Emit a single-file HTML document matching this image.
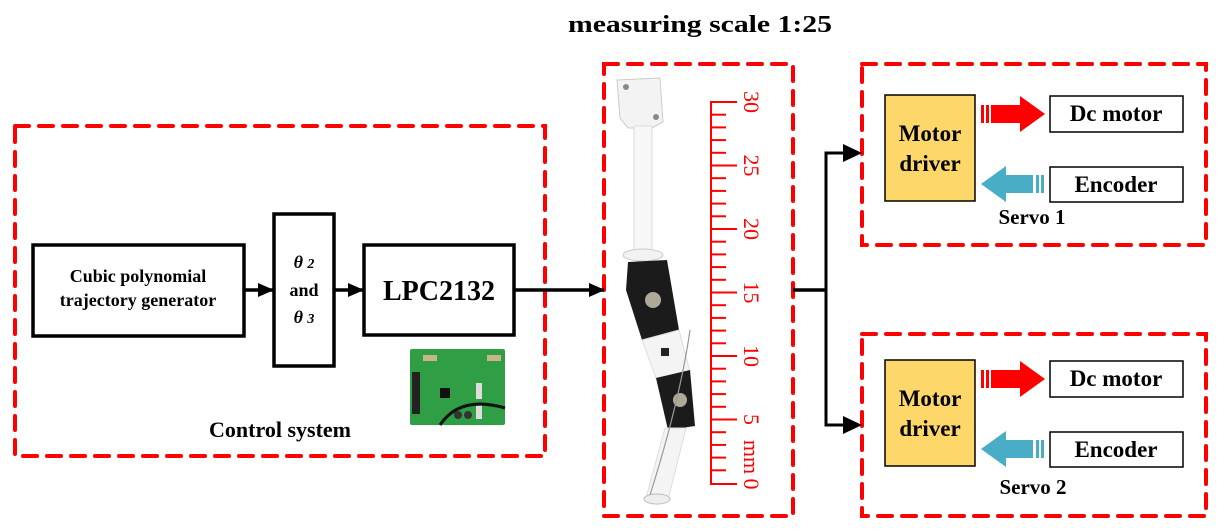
<!DOCTYPE html>
<html><head><meta charset="utf-8"><style>
html,body{margin:0;padding:0;background:#fff;}
svg{display:block;}
svg text{font-family:"Liberation Serif","Times New Roman",serif;font-weight:bold;}
svg text.n{font-weight:normal;}
</style></head><body>
<svg width="1221" height="532" viewBox="0 0 1221 532" xmlns="http://www.w3.org/2000/svg" font-family="Liberation Serif, serif">
<defs>
<marker id="ah" markerWidth="16" markerHeight="16" refX="15" refY="8" orient="auto" markerUnits="userSpaceOnUse">
<path d="M0,1 L16,8 L0,15 Z" fill="#000"/></marker>
</defs>
<text x="700" y="32" font-size="24" text-anchor="middle" textLength="264" lengthAdjust="spacingAndGlyphs">measuring scale 1:25</text>

<g fill="none" stroke="#ff0000" stroke-width="4" stroke-dasharray="14 10" stroke-linecap="round">
<rect x="15" y="126" width="530" height="330"/>
<rect x="604" y="64" width="189" height="452"/>
<rect x="862" y="64" width="344" height="181"/>
<rect x="862" y="334" width="344" height="182"/>
</g>

<g fill="#fff" stroke="#000" stroke-width="3.5">
<rect x="33" y="245" width="211" height="91"/>
<rect x="274" y="214" width="60" height="152"/>
<rect x="364" y="245" width="150" height="90"/>
</g>
<text x="138" y="282" font-size="18" text-anchor="middle">Cubic polynomial</text>
<text x="138" y="306" font-size="18" text-anchor="middle">trajectory generator</text>
<text x="304" y="268" font-size="18" text-anchor="middle" font-style="italic">θ <tspan font-size="14">2</tspan></text>
<text x="304" y="296" font-size="18" text-anchor="middle">and</text>
<text x="304" y="323" font-size="18" text-anchor="middle" font-style="italic">θ <tspan font-size="14">3</tspan></text>
<text x="439" y="300" font-size="28" text-anchor="middle">LPC2132</text>
<text x="280" y="437" font-size="22" text-anchor="middle">Control system</text>

<g stroke="#000" stroke-width="3.5" fill="none">
<line x1="244" y1="290" x2="273" y2="290" marker-end="url(#ah)"/>
<line x1="334" y1="290" x2="363" y2="290" marker-end="url(#ah)"/>
<line x1="514" y1="290" x2="604" y2="290" marker-end="url(#ah)"/>
<polyline points="793,290 826,290"/>
<polyline points="846,153 826,153 826,425 846,425" stroke-width="3"/>
</g>
<path d="M843,144 L862,153 L843,162Z M843,416 L862,425 L843,434Z"/>

<!-- PCB -->
<rect x="410" y="349" width="95" height="76" fill="#2f9e45" rx="2"/>
<rect x="412" y="372" width="8" height="42" fill="#222"/>
<rect x="440" y="388" width="10" height="10" fill="#111"/>
<rect x="423" y="355" width="14" height="6" fill="#c8b58a"/>
<rect x="487" y="355" width="14" height="6" fill="#c8b58a"/>
<rect x="476" y="383" width="6" height="16" fill="#ddd"/>
<rect x="476" y="403" width="6" height="16" fill="#ddd"/>
<path d="M440,425 Q460,395 505,408" stroke="#111" stroke-width="3" fill="none"/>
<circle cx="458" cy="415" r="4" fill="#333"/><circle cx="468" cy="415" r="4" fill="#333"/>

<!-- Arm -->
<path d="M617,80 L660,78 L663,122 L652,128 L628,128 L620,118 Z" fill="#f3f3f3" stroke="#ccc"/>
<circle cx="626" cy="87" r="3" fill="#888"/><circle cx="656" cy="117" r="3" fill="#888"/>
<rect x="634" y="126" width="18" height="126" fill="#f7f7f7" stroke="#ddd"/>
<ellipse cx="643" cy="255" rx="20" ry="6" fill="#f2f2f2" stroke="#ccc"/>
<path d="M628,262 L667,260 L679,330 L642,340 L626,290 Z" fill="#1b1b1b"/>
<circle cx="653" cy="300" r="8" fill="#b0a898"/>
<path d="M642,340 L679,330 L690,372 L656,378 Z" fill="#f4f4f4" stroke="#ddd"/>
<rect x="661" y="348" width="8" height="8" fill="#222"/>
<path d="M656,378 L690,370 L695,426 L668,430 Z" fill="#1b1b1b"/>
<circle cx="680" cy="400" r="7" fill="#b0a898"/>
<path d="M665,428 L686,428 L668,500 L646,498 Z" fill="#f4f4f4" stroke="#ddd"/>
<ellipse cx="657" cy="499" rx="13" ry="5" fill="#eee" stroke="#bbb"/>
<path d="M690,330 Q680,400 650,495" stroke="#999" stroke-width="1.2" fill="none"/>

<!-- Ruler -->
<g stroke="#ff0000" stroke-width="2">
<line x1="711" y1="101" x2="711" y2="485"/>
<line x1="711" y1="102" x2="737" y2="102"/><line x1="711" y1="114.7" x2="726" y2="114.7"/><line x1="711" y1="127.4" x2="726" y2="127.4"/><line x1="711" y1="140.1" x2="726" y2="140.1"/><line x1="711" y1="152.8" x2="726" y2="152.8"/>
<line x1="711" y1="165.5" x2="737" y2="165.5"/><line x1="711" y1="178.2" x2="726" y2="178.2"/><line x1="711" y1="190.9" x2="726" y2="190.9"/><line x1="711" y1="203.6" x2="726" y2="203.6"/><line x1="711" y1="216.3" x2="726" y2="216.3"/>
<line x1="711" y1="229" x2="737" y2="229"/><line x1="711" y1="241.7" x2="726" y2="241.7"/><line x1="711" y1="254.4" x2="726" y2="254.4"/><line x1="711" y1="267.1" x2="726" y2="267.1"/><line x1="711" y1="279.8" x2="726" y2="279.8"/>
<line x1="711" y1="292.5" x2="737" y2="292.5"/><line x1="711" y1="305.2" x2="726" y2="305.2"/><line x1="711" y1="317.9" x2="726" y2="317.9"/><line x1="711" y1="330.6" x2="726" y2="330.6"/><line x1="711" y1="343.3" x2="726" y2="343.3"/>
<line x1="711" y1="356" x2="737" y2="356"/><line x1="711" y1="368.7" x2="726" y2="368.7"/><line x1="711" y1="381.4" x2="726" y2="381.4"/><line x1="711" y1="394.1" x2="726" y2="394.1"/><line x1="711" y1="406.8" x2="726" y2="406.8"/>
<line x1="711" y1="419.5" x2="737" y2="419.5"/><line x1="711" y1="432.2" x2="726" y2="432.2"/><line x1="711" y1="444.9" x2="726" y2="444.9"/><line x1="711" y1="457.6" x2="726" y2="457.6"/><line x1="711" y1="470.3" x2="726" y2="470.3"/>
<line x1="711" y1="484" x2="737" y2="484"/>
</g>
<g fill="#ff0000" font-size="22" text-anchor="middle">
<text class="n" transform="translate(744,102) rotate(90)">30</text>
<text class="n" transform="translate(744,165.5) rotate(90)">25</text>
<text class="n" transform="translate(744,229) rotate(90)">20</text>
<text class="n" transform="translate(744,292.5) rotate(90)">15</text>
<text class="n" transform="translate(744,356) rotate(90)">10</text>
<text class="n" transform="translate(744,419.5) rotate(90)">5</text>
<text class="n" transform="translate(744,457) rotate(90)">mm</text>
<text class="n" transform="translate(744,484) rotate(90)">0</text>
</g>

<!-- Servo boxes -->
<g id="sv">
<rect x="885" y="95" width="90" height="106" fill="#fdd76a" stroke="#000" stroke-width="1.5"/>
<text x="930" y="141" font-size="23" text-anchor="middle">Motor</text>
<text x="930" y="171" font-size="23" text-anchor="middle">driver</text>
<rect x="1050" y="96" width="133" height="36" fill="#fff" stroke="#000" stroke-width="1.5"/>
<text x="1116" y="121" font-size="23" text-anchor="middle">Dc motor</text>
<rect x="1050" y="167" width="133" height="35" fill="#fff" stroke="#000" stroke-width="1.5"/>
<text x="1116" y="192" font-size="23" text-anchor="middle">Encoder</text>
<g fill="#ff0000"><rect x="981" y="105" width="3" height="18"/><rect x="986" y="105" width="3" height="18"/><path d="M991,105 L1020,105 L1020,96 L1045,114 L1020,132 L1020,123 L991,123 Z"/></g>
<g fill="#4aadc6"><rect x="1041" y="175" width="3" height="18"/><rect x="1036" y="175" width="3" height="18"/><path d="M1033,175 L1006,175 L1006,166 L981,184 L1006,202 L1006,193 L1033,193 Z"/></g>
</g>
<text x="1032" y="224" font-size="21" text-anchor="middle">Servo 1</text>
<use href="#sv" transform="translate(0,265)"/>
<text x="1033" y="494" font-size="21" text-anchor="middle">Servo 2</text>
</svg>
</body></html>
